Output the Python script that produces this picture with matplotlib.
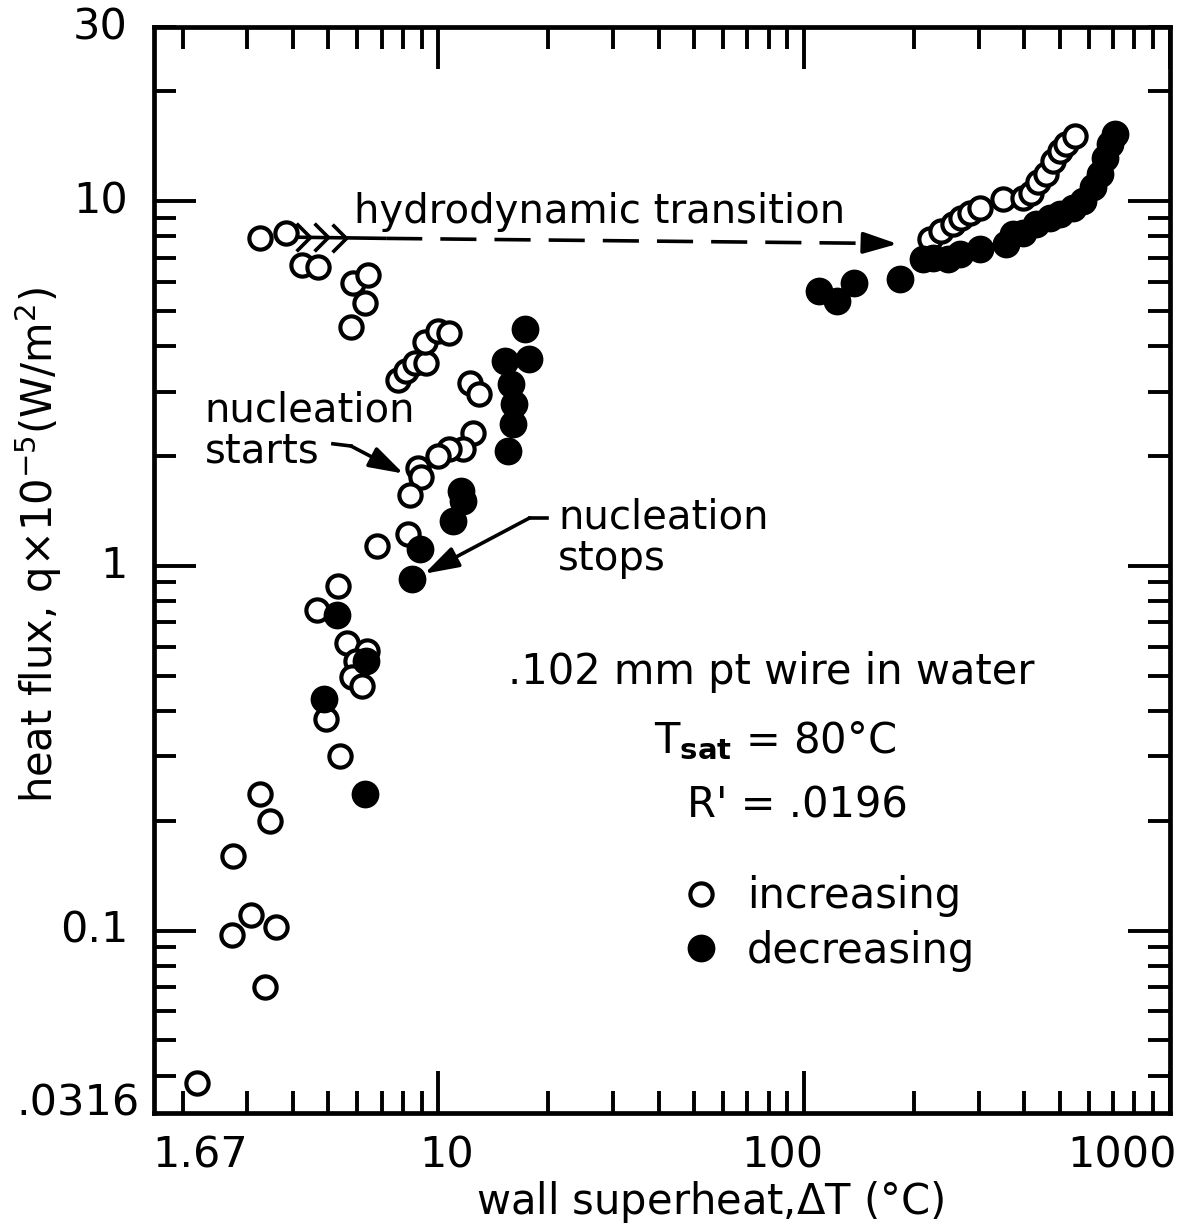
import matplotlib
matplotlib.use('Agg')
import matplotlib.pyplot as plt
from matplotlib.ticker import LogLocator, NullFormatter

# wall superheat (C) and heat flux (x1e-5 W/m2), increasing power - open circles
inc_dt = [3.26, 3.84, 4.24, 4.68, 5.83, 6.44, 6.32, 5.77, 7.78, 8.18, 8.61, 9.27,
          9.19, 9.97, 10.7, 12.2, 12.9, 12.4, 11.7, 10.7, 10.0, 8.78, 8.95, 8.39,
          8.26, 6.81, 5.33, 4.67, 5.64, 6.38, 5.96, 5.80, 6.18, 4.94, 5.39, 3.25,
          3.46, 2.75, 3.07, 2.72, 3.61, 3.36, 2.19,
          221, 237, 255, 269, 284, 303, 350, 397, 417, 436, 458, 479, 500, 520, 550]
inc_q = [7.93, 8.17, 6.68, 6.59, 5.96, 6.27, 5.26, 4.52, 3.24, 3.42, 3.60, 3.60,
         4.11, 4.41, 4.35, 3.17, 2.96, 2.31, 2.09, 2.09, 2.00, 1.85, 1.75, 1.56,
         1.22, 1.13, 0.88, 0.757, 0.615, 0.585, 0.549, 0.494, 0.469, 0.381, 0.301, 0.237,
         0.200, 0.160, 0.110, 0.0975, 0.102, 0.0698, 0.0381,
         7.88, 8.28, 8.65, 8.98, 9.27, 9.57, 10.1, 10.2, 10.5, 11.3, 11.9, 12.9, 13.7, 14.3, 15.1]

# decreasing power - filled circles
dec_dt = [17.3, 15.2, 17.7, 15.8, 16.1, 16.0, 15.5, 11.5, 11.7, 11.0, 8.89, 8.49,
          5.28, 6.33, 4.88, 6.32,
          110, 123, 137, 183, 211, 225, 247, 267, 303, 356, 373, 397, 430, 470, 500,
          543, 578, 616, 644, 664, 685, 707]
dec_q = [4.46, 3.65, 3.69, 3.16, 2.78, 2.45, 2.07, 1.60, 1.51, 1.33, 1.11, 0.921,
         0.734, 0.549, 0.432, 0.237,
         5.66, 5.32, 5.96, 6.11, 6.93, 6.98, 6.93, 7.16, 7.38, 7.63, 8.12, 8.17, 8.65, 8.98, 9.21,
         9.57, 10.0, 10.9, 11.9, 13.1, 14.3, 15.3]

xticks = [1.67, 10, 100, 1000]
xtick_labels = ['1.67', '10', '100', '1000']
xtick_dx = [46, 8, -22, -48]
yticks = [30, 10, 1, 0.1, 0.0316]
ytick_labels = ['30', '10', '1', '0.1', '.0316']
ytick_dx = [-26, -26, -26, -26, -14]
ytick_dy = [0, 0, 0, 0, 9]

plt.rcParams['font.family'] = 'DejaVu Sans'
plt.rcParams['mathtext.fontset'] = 'dejavusans'

fig = plt.figure(figsize=(11.92, 12.29), dpi=100)
ax = fig.add_axes([0.1292, 0.0944, 0.8523, 0.8836])
ax.set_xscale('log')
ax.set_yscale('log')
ax.set_xlim(1.67, 1000)
ax.set_ylim(0.0316, 30)

for a in (ax.xaxis, ax.yaxis):
    a.set_major_locator(LogLocator(base=10))
    a.set_minor_locator(LogLocator(base=10, subs=range(2, 10)))
    a.set_major_formatter(NullFormatter())
    a.set_minor_formatter(NullFormatter())
ax.tick_params(which='both', direction='in', top=True, right=True, width=2.8, color='k')
ax.tick_params(which='major', length=30)
ax.tick_params(which='minor', length=16)
for s in ax.spines.values():
    s.set_linewidth(3.4)

# tick labels, hand placed like the original
for v, t, dx in zip(xticks, xtick_labels, xtick_dx):
    ax.annotate(t, xy=(v, 0), xycoords=('data', 'axes fraction'), xytext=(dx, -22),
                textcoords='offset pixels', ha='center', va='top', fontsize=31)
for v, t, dx, dy in zip(yticks, ytick_labels, ytick_dx, ytick_dy):
    ax.annotate(t, xy=(0, v), xycoords=('axes fraction', 'data'), xytext=(dx, dy),
                textcoords='offset pixels', ha='right', va='center', fontsize=31)

ax.set_xlabel('wall superheat,$\\Delta$T (°C)', fontsize=30, va='center')
ax.xaxis.set_label_coords(0.547, -0.082)
ax.set_ylabel('heat flux, q$\\times$10$^{-5}$(W/m$^{2}$)', fontsize=30, va='center')
ax.yaxis.set_label_coords(-0.114, 0.523)

ax.plot(inc_dt, inc_q, 'o', ms=16, mfc='white', mec='k', mew=3.0, ls='none',
        label='increasing', zorder=3)
ax.plot(dec_dt, dec_q, 'o', ms=17, mfc='k', mec='k', mew=3.0, ls='none',
        label='decreasing', zorder=4)

head = '-|>,head_length=0.7,head_width=0.22'

# hydrodynamic transition arrow
ax.plot([4.08, 7.2], [7.96, 7.9], color='k', lw=2.6, solid_capstyle='butt')
ax.plot([7.2, 168], [7.9, 7.65], color='k', lw=2.6, dashes=(10, 5))
ax.annotate('', xy=(180, 7.63), xytext=(158, 7.66),
            arrowprops=dict(arrowstyle=head, mutation_scale=30, lw=2.6, color='k',
                            shrinkA=0, shrinkB=0))
chevron = [(-1, 1), (0, 0), (-1, -1)]
ax.plot([4.46, 5.0, 5.6], [7.96, 7.95, 7.94], marker=chevron, ms=20, mfc='none',
        mec='k', mew=2.6, ls='none')
ax.text(0.439, 0.8297, 'hydrodynamic transition', transform=ax.transAxes,
        ha='center', va='center', fontsize=29)

# nucleation starts
ax.plot([5.15, 5.77], [2.16, 2.13], color='k', lw=2.6)
ax.annotate('', xy=(8.03, 1.79), xytext=(5.77, 2.13),
            arrowprops=dict(arrowstyle=head, mutation_scale=30, lw=2.6, color='k',
                            shrinkA=0, shrinkB=0))
ax.text(0.050, 0.628, 'nucleation\nstarts', transform=ax.transAxes,
        ha='left', va='center', fontsize=29, linespacing=1.05)

# nucleation stops
ax.plot([19.8, 17.8], [1.354, 1.354], color='k', lw=2.6)
ax.annotate('', xy=(9.16, 0.951), xytext=(17.8, 1.354),
            arrowprops=dict(arrowstyle=head, mutation_scale=30, lw=2.6, color='k',
                            shrinkA=0, shrinkB=0))
ax.text(0.398, 0.529, 'nucleation\nstops', transform=ax.transAxes,
        ha='left', va='center', fontsize=29, linespacing=1.05)

ax.text(0.608, 0.406, '.102 mm pt wire in water', transform=ax.transAxes,
        ha='center', va='center', fontsize=30)
ax.text(0.611, 0.343, 'T$_{\\mathbf{sat}}$ = 80°C', transform=ax.transAxes,
        ha='center', va='center', fontsize=30)
ax.text(0.633, 0.283, "R' = .0196", transform=ax.transAxes,
        ha='center', va='center', fontsize=30)

ax.legend(loc='center left', bbox_to_anchor=(0.518, 0.1745), frameon=False,
          numpoints=1, handlelength=1.0, handletextpad=0.6, borderpad=0,
          borderaxespad=0, labelspacing=0.3, fontsize=30)

fig.savefig('out.png', dpi=100)
